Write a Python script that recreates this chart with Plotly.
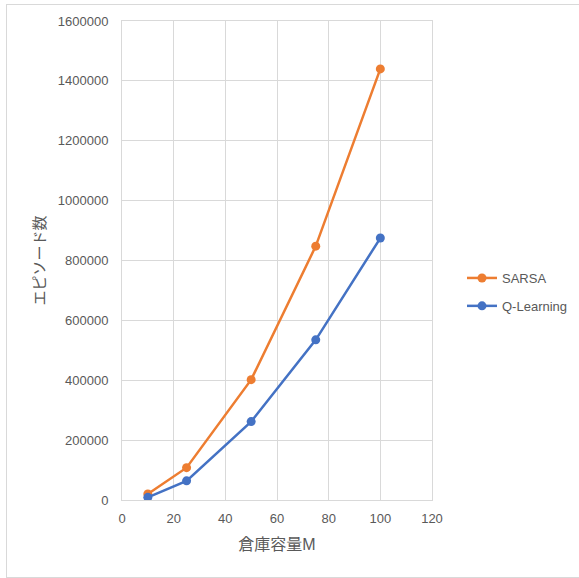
import plotly.graph_objects as go

# warehouse capacity M and episodes needed per method
capacity = [10, 25, 50, 75, 100]
sarsa_episodes = [20000, 108000, 402000, 848000, 1440000]
qlearning_episodes = [9000, 64000, 262000, 535000, 875000]

x_ticks = [0, 20, 40, 60, 80, 100, 120]
y_ticks = [0, 200000, 400000, 600000, 800000, 1000000, 1200000, 1400000, 1600000]

ORANGE = "#ED7D31"
BLUE = "#4472C4"
GRID = "#D9D9D9"
TEXT = "#595959"
FONT = "Liberation Sans, Noto Sans CJK JP, sans-serif"

fig = go.Figure()
fig.add_trace(go.Scatter(
    x=capacity, y=sarsa_episodes, name="SARSA", mode="lines+markers",
    legendgroup="sarsa",
    line=dict(color=ORANGE, width=2.5), marker=dict(color=ORANGE, size=9),
))
fig.add_trace(go.Scatter(
    x=capacity, y=qlearning_episodes, name="Q-Learning", mode="lines+markers",
    legendgroup="qlearning",
    line=dict(color=BLUE, width=2.5), marker=dict(color=BLUE, size=9),
))

L, R, T, B = 122, 147, 21, 78
W, H = 579, 578
pw, ph = W - L - R, H - T - B


def px_x(px):
    return (px - L) / pw


def px_y(py):
    return (H - B - py) / ph


# thin frame around the chart (top, left, bottom edges)
frame = dict(type="line", xref="paper", yref="paper",
             line=dict(color="#D9D9D9", width=1), layer="below")
shapes = [
    dict(frame, x0=px_x(6), x1=px_x(600), y0=px_y(4.5), y1=px_y(4.5)),
    dict(frame, x0=px_x(6.5), x1=px_x(6.5), y0=px_y(4.5), y1=px_y(577.5)),
    dict(frame, x0=px_x(6), x1=px_x(600), y0=px_y(577.5), y1=px_y(577.5)),
]

fig.update_layout(
    width=W, height=H,
    margin=dict(l=L, r=R, t=T, b=B),
    paper_bgcolor="white", plot_bgcolor="white",
    font=dict(family=FONT, size=13, color=TEXT),
    showlegend=True,
    legend=dict(
        xref="container", yref="container",
        x=462 / W, y=1 - 263 / H, xanchor="left", yanchor="top",
        font=dict(size=13, color=TEXT), bgcolor="rgba(0,0,0,0)",
        tracegroupgap=8, borderwidth=0,
    ),
    xaxis=dict(
        range=[0, 120], tickvals=x_ticks, ticktext=[str(v) for v in x_ticks],
        showgrid=True, gridcolor=GRID, gridwidth=1, zeroline=False,
        showline=True, linecolor=GRID, mirror=True,
        ticks="outside", ticklen=6, tickcolor="rgba(0,0,0,0)",
        title=dict(text="倉庫容量M", font=dict(size=16, color=TEXT), standoff=14),
        fixedrange=True,
    ),
    yaxis=dict(
        range=[0, 1600000], tickvals=y_ticks, ticktext=[str(v) for v in y_ticks],
        showgrid=True, gridcolor=GRID, gridwidth=1, zeroline=False,
        showline=True, linecolor=GRID, mirror=True,
        ticks="outside", ticklen=10, tickcolor="rgba(0,0,0,0)",
        title=dict(text="エピソード数", font=dict(size=15, color=TEXT), standoff=8),
        fixedrange=True,
    ),
    shapes=shapes,
)

fig.write_html("out.html")
